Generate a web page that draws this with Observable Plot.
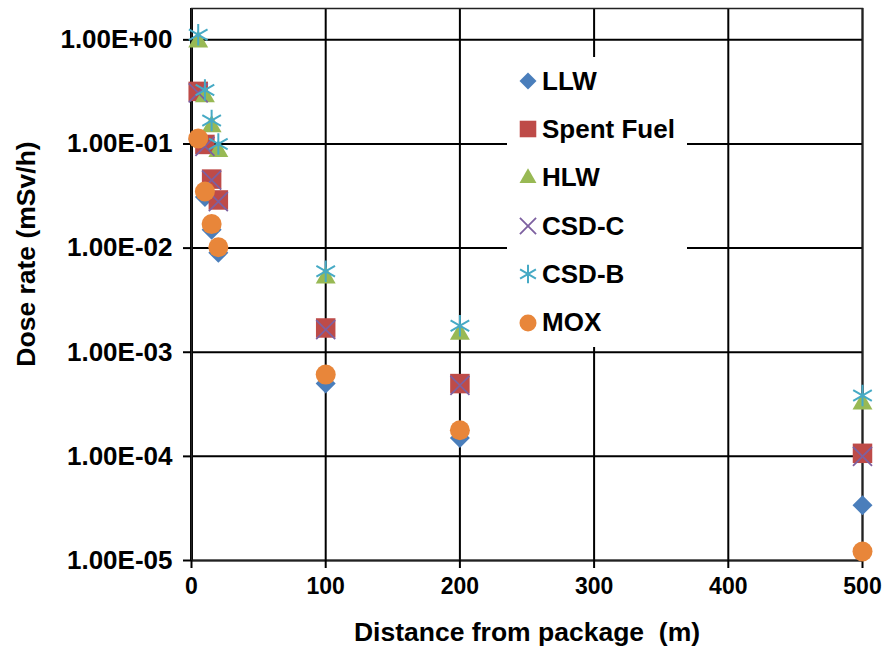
<!DOCTYPE html>
<html>
<head>
<meta charset="utf-8">
<script src="https://cdn.jsdelivr.net/npm/d3@7"></script>
<script src="https://cdn.jsdelivr.net/npm/@observablehq/plot@0.6"></script>
<style>
  html, body { margin: 0; padding: 0; background: #fff; }
  #wrap { position: relative; width: 886px; height: 647px; font-family: "Liberation Sans", Arial, sans-serif; }
  #legend { position: absolute; left: 507px; top: 57px; width: 180px; background: #fff; }
  .row { height: 48.3px; display: flex; align-items: center; font-weight: bold; font-size: 26px; color: #000; white-space: nowrap; }
  .row svg { margin-left: 10px; margin-right: 3px; }
  #ylabel { position: absolute; left: 26px; top: 254px; transform: translate(-50%, -50%) rotate(-90deg);
            font-weight: bold; font-size: 26.5px; white-space: nowrap; color: #000; }
</style>
</head>
<body>
<div id="wrap"><div id="legend"></div><div id="ylabel">Dose rate (mSv/h)</div></div>
<script>
// ---- data ----
const distance = [5, 10, 15, 20, 100, 200, 500];
const llw       = [0.11, 0.031, 0.015, 0.009, 0.0005, 0.00015, 0.000034];
const spentFuel = [0.32, 0.099, 0.046, 0.029, 0.00171, 0.0005, 0.000107];
const hlw       = [0.96, 0.285, 0.147, 0.085, 0.0052, 0.0015, 0.00032];
const csdC      = [0.31, 0.095, 0.045, 0.028, 0.00165, 0.00048, 0.0001];
const csdB      = [1.12, 0.33, 0.168, 0.10, 0.006, 0.0018, 0.000384];
const mox       = [0.113, 0.035, 0.017, 0.0102, 0.00061, 0.000178, 0.0000122];

const seriesNames = ["LLW", "Spent Fuel", "HLW", "CSD-C", "CSD-B", "MOX"];
const seriesValues = [llw, spentFuel, hlw, csdC, csdB, mox];
const xTicks = [0, 100, 200, 300, 400, 500];
const yTicks = [1, 1e-1, 1e-2, 1e-3, 1e-4, 1e-5];

// ---- styles ----
const styles = [
  {symbol: "diamond2", fill: "#4A7EBB", stroke: "none", r: 9.0, sw: 0},
  {symbol: "square",   fill: "#BE4B48", stroke: "none", r: 11.0, sw: 0},
  {symbol: "triangle", fill: "#98B954", stroke: "none", r: 7.4, sw: 0},
  {symbol: "times",    fill: "none", stroke: "#7D60A0", r: 8.7, sw: 1.8},
  {symbol: "asterisk", fill: "none", stroke: "#46AAC5", r: 10.2, sw: 2},
  {symbol: "circle",   fill: "#E8863A", stroke: "none", r: 10, sw: 0}
];

const fmtE = d => {
  const [m, e] = d.toExponential(2).split("e");
  const n = +e;
  return m.toUpperCase() + "E" + (n < 0 ? "-" : "+") + String(Math.abs(n)).padStart(2, "0");
};

const dotMarks = seriesNames.map((name, i) => {
  const data = distance.map((d, j) => ({distance: d, dose: seriesValues[i][j], series: name}));
  const s = styles[i];
  return Plot.dot(data, {
    x: "distance", y: "dose", symbol: () => s.symbol, r: s.r,
    fill: s.fill, stroke: s.stroke, strokeWidth: s.sw
  });
});

const chart = Plot.plot({
  width: 886, height: 647,
  marginLeft: 191, marginRight: 24, marginTop: 8, marginBottom: 87,
  style: {fontFamily: "'Liberation Sans', Arial, sans-serif", fontWeight: "bold", fontSize: "22px", color: "#000", background: "#fff", overflow: "visible"},
  x: {domain: [0, 500]},
  y: {type: "log", domain: [1e-5, 2]},
  symbol: {type: "identity"},
  marks: [
    Plot.ruleY(yTicks, {stroke: "#000", strokeWidth: 2}),
    Plot.ruleX(xTicks, {stroke: "#000", strokeWidth: 2}),
    Plot.ruleX([0], {stroke: "#000", strokeWidth: 3}),
    Plot.frame({stroke: "#222", strokeWidth: 1.5}),
    Plot.axisX({ticks: xTicks, tickSize: 8, tickPadding: 9, strokeWidth: 2, tickFormat: d => String(d), fontSize: 23,
      label: null}),
    Plot.axisX({ticks: [], label: "Distance from package  (m)", labelAnchor: "center", labelOffset: 80, labelArrow: false, fontSize: 26.5}),
    Plot.axisY({ticks: yTicks, tickSize: 8, tickPadding: 11, strokeWidth: 2, tickFormat: fmtE, fontSize: 26,
      label: null}),
    ...dotMarks
  ]
});
document.getElementById("wrap").prepend(chart);

// ---- legend ----
const legend = document.getElementById("legend");
const symMap = {diamond2: d3.symbolDiamond2, square: d3.symbolSquare, triangle: d3.symbolTriangle,
                times: d3.symbolTimes, asterisk: d3.symbolAsterisk, circle: d3.symbolCircle};
seriesNames.forEach((name, i) => {
  const s = styles[i];
  const row = document.createElement("div");
  row.className = "row";
  const sz = 22;
  const svg = d3.create("svg").attr("width", sz).attr("height", sz).attr("viewBox", `${-sz/2} ${-sz/2} ${sz} ${sz}`);
  const rr = s.r * 0.85;
  svg.append("path").attr("d", d3.symbol(symMap[s.symbol], rr * rr * Math.PI)())
    .attr("fill", s.fill).attr("stroke", s.stroke).attr("stroke-width", s.sw);
  row.appendChild(svg.node());
  const span = document.createElement("span");
  span.textContent = name;
  row.appendChild(span);
  legend.appendChild(row);
});
</script>
</body>
</html>
